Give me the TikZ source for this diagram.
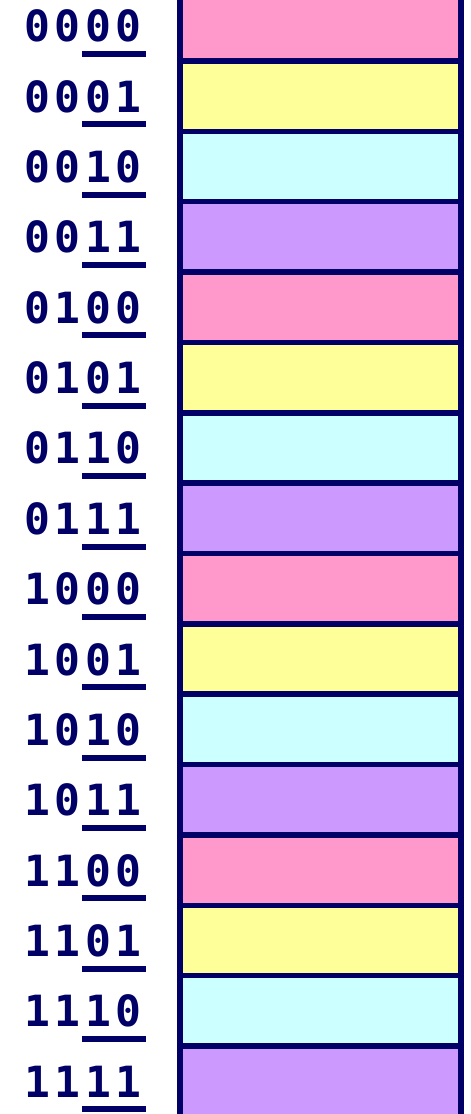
\documentclass[tikz,border=0pt]{standalone}
\usepackage{fontspec}
\newfontfamily\digitfont[LetterSpace=10]{DejaVu Sans Mono Bold}
\definecolor{navy}{HTML}{000066}
\definecolor{cpink}{HTML}{FF99CC}
\definecolor{cyellow}{HTML}{FFFF99}
\definecolor{ccyan}{HTML}{CCFFFF}
\definecolor{cpurple}{HTML}{CC99FF}
\tikzset{
  cellbox/.style={draw=navy, line width=5.5pt, minimum width=281pt, minimum height=70.36pt, inner sep=0pt, outer sep=0pt},
  addr/.style={text=navy, font=\digitfont\fontsize{43}{43}\selectfont, inner sep=0pt, anchor=base east},
  uline/.style={draw=navy, line width=6pt}
}
\begin{document}
\begin{tikzpicture}[x=1pt,y=-1pt]
\useasboundingbox (0,0) rectangle (471,1114);
\clip (0,0) rectangle (471,1114);
\foreach \i/\lab/\col in {0/0000/cpink,1/0001/cyellow,2/0010/ccyan,3/0011/cpurple,
  4/0100/cpink,5/0101/cyellow,6/0110/ccyan,7/0111/cpurple,
  8/1000/cpink,9/1001/cyellow,10/1010/ccyan,11/1011/cpurple,
  12/1100/cpink,13/1101/cyellow,14/1110/ccyan,15/1111/cpurple}{
  \pgfmathsetmacro{\yc}{25.8+70.36*\i}
  \node[cellbox, fill=\col] (r\i) at (320.5,\yc) {};
  \node[addr] (t\i) at (141.5,\yc+16) {\lab};
  \coordinate (ua\i) at (82,\yc+28.2);
  \coordinate (ub\i) at (146,\yc+28.2);
  \draw[uline] (ua\i) -- (ub\i);
}
\end{tikzpicture}
\end{document}
